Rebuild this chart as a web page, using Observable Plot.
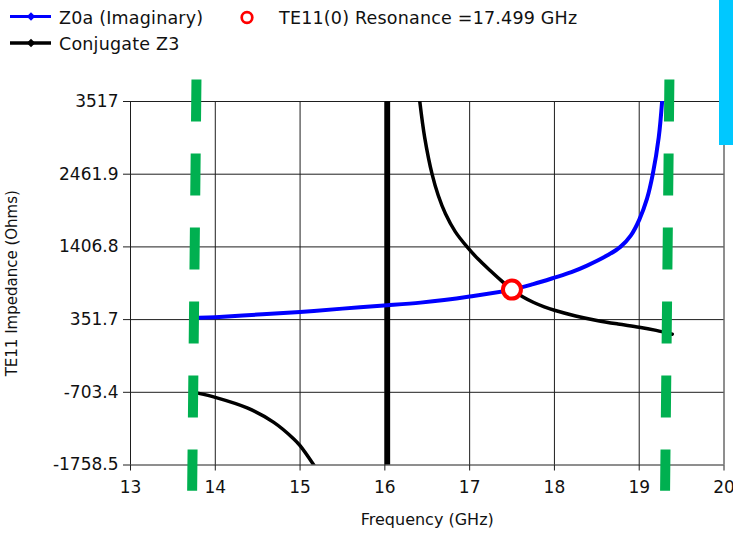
<!DOCTYPE html>
<html>
<head>
<meta charset="utf-8">
<script src="https://cdn.jsdelivr.net/npm/d3@7"></script>
<script src="https://cdn.jsdelivr.net/npm/@observablehq/plot@0.6"></script>
<style>
  html, body { margin: 0; padding: 0; background: #fff; }
  #wrap { position: relative; width: 733px; height: 533px; overflow: hidden; font-family: "DejaVu Sans", sans-serif; color: #111; }
  #wrap > svg { position: absolute; left: 0; top: 0; }
  #tab { position: absolute; left: 719px; top: 0; width: 14px; height: 145px; background: #00c8ff; }
</style>
</head>
<body>
<div id="wrap">
  <svg id="legend" width="733" height="64" font-family="DejaVu Sans" font-size="17.5" letter-spacing="0.2" fill="#111">
    <line x1="10" x2="51" y1="16.5" y2="16.5" stroke="#0000ff" stroke-width="3"/>
    <rect x="28" y="13.5" width="6" height="6" fill="#0000ff" transform="rotate(45 31 16.5)"/>
    <text x="59" y="23.5">Z0a (Imaginary)</text>
    <circle cx="247" cy="17.5" r="5.3" fill="#fff" stroke="#ff0000" stroke-width="2.7"/>
    <text x="279" y="23.5">TE11(0) Resonance =17.499 GHz</text>
    <line x1="10" x2="51" y1="43" y2="43" stroke="#000" stroke-width="3.5"/>
    <rect x="28" y="40" width="6" height="6" fill="#000" transform="rotate(45 31 43)"/>
    <text x="59" y="50">Conjugate Z3</text>
  </svg>
  <div id="tab"></div>
</div>
<script>
// Axis ticks
const xTicks = [13, 14, 15, 16, 17, 18, 19, 20];
const yTicks = [-1758.5, -703.4, 351.7, 1406.8, 2461.9, 3517];

// Z0a (Imaginary), Ohms vs frequency in GHz
const z0aFreq = [13.806, 14.0, 14.5, 15.0, 15.5, 16.03, 16.42, 16.7, 17.0, 17.499, 17.75, 18.0, 18.2, 18.385, 18.62, 18.778, 18.9, 19.0, 19.093, 19.16, 19.23, 19.27];
const z0aImag = [378, 387, 424, 463, 511, 559, 598, 635, 686, 787, 867, 961, 1041, 1136, 1281, 1406.8, 1571, 1800, 2110, 2461.9, 2994, 3517];

// Conjugate Z3, below and above its pole
const z3FreqLow = [13.806, 14.0, 14.376, 14.69, 14.926, 15.0, 15.162];
const z3Low = [-719, -777, -930, -1140, -1381, -1478, -1758.5];
const z3FreqHigh = [16.412, 16.47, 16.557, 16.63, 16.715, 16.83, 16.97, 17.1, 17.245, 17.37, 17.499, 17.63, 17.756, 17.88, 18.0, 18.25, 18.5, 18.75, 19.0, 19.2, 19.39];
const z3High = [3517, 2993, 2461.9, 2153, 1888, 1629, 1406.8, 1230, 1060, 920, 787, 680, 600, 537, 487, 405, 340, 288, 242, 195, 140];
const z3PoleFreq = [16.03];

// TE11(0) resonance
const resFreq = [17.499];
const resImpedance = [787];

// Band edge markers (dashed green), top and bottom ends
const edgeFreqTop = [13.778, 19.356];
const edgeFreqBottom = [13.727, 19.305];
const edgeSpan = [3836, -2132];

const z0a = z0aFreq.map((f, i) => ({f, v: z0aImag[i]}));
const z3a = z3FreqLow.map((f, i) => ({f, v: z3Low[i]}));
const z3b = z3FreqHigh.map((f, i) => ({f, v: z3High[i]}));
const res = resFreq.map((f, i) => ({f, v: resImpedance[i]}));
const edges = edgeFreqTop.map((f, i) => ({x1: f, x2: edgeFreqBottom[i], y1: edgeSpan[0], y2: edgeSpan[1]}));

const gridStyle = {stroke: "#1e1e1e", strokeOpacity: 1, strokeWidth: 1};

const chart = Plot.plot({
  width: 733,
  height: 533,
  marginLeft: 130,
  marginRight: 9.5,
  marginTop: 101,
  marginBottom: 68.5,
  style: {fontFamily: "DejaVu Sans", fontSize: "17px", color: "#111", background: "transparent", overflow: "visible"},
  x: {domain: [13, 20]},
  y: {domain: [-1758.5, 3517]},
  marks: [
    Plot.gridX(xTicks, gridStyle),
    Plot.gridY(yTicks, gridStyle),
    Plot.axisX(xTicks, {tickSize: 6, tickPadding: 10, tickFormat: d => String(d), label: null, stroke: "#1e1e1e"}),
    Plot.axisY(yTicks, {tickSize: 7, tickPadding: 5, tickFormat: d => String(d), label: null, stroke: "#1e1e1e"}),
    Plot.text(["Frequency (GHz)"], {frameAnchor: "bottom", dy: 60, text: d => d, fontSize: 16}),
    Plot.text(["TE11 Impedance (Ohms)"], {frameAnchor: "left", textAnchor: "middle", dx: -118, rotate: -90, text: d => d, fontSize: 15}),
    Plot.ruleX(z3PoleFreq, {stroke: "#000", strokeWidth: 5.5}),
    Plot.line(z3a, {x: "f", y: "v", stroke: "#000", strokeWidth: 3.5, curve: "catmull-rom", clip: true}),
    Plot.line(z3b, {x: "f", y: "v", stroke: "#000", strokeWidth: 3.5, curve: "catmull-rom", clip: true}),
    Plot.line(z0a, {x: "f", y: "v", stroke: "#0000ff", strokeWidth: 4, curve: "catmull-rom", clip: true}),
    Plot.dot(res, {x: "f", y: "v", r: 9, stroke: "#ff0000", strokeWidth: 4, fill: "#fff"}),
    Plot.link(edges, {x1: "x1", y1: "y1", x2: "x2", y2: "y2", stroke: "#00b050", strokeWidth: 10, strokeDasharray: "42 32", strokeLinecap: "butt"})
  ]
});

document.getElementById("wrap").insertBefore(chart, document.getElementById("legend"));
</script>
</body>
</html>
